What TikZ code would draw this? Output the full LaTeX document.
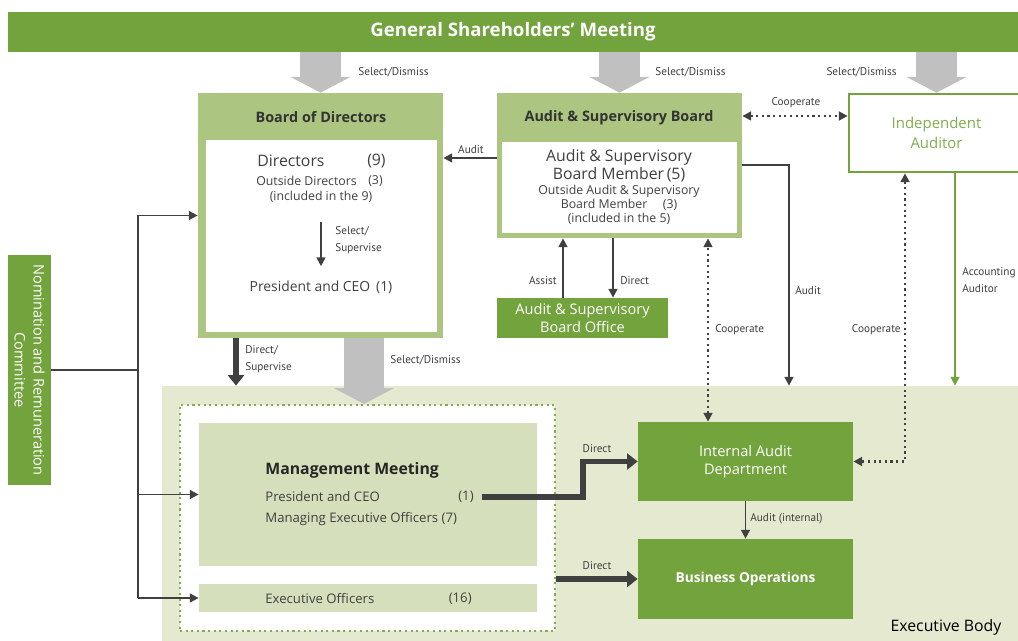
\documentclass[tikz,border=0pt]{standalone}
\usepackage{fontspec}
\setmainfont{Open Sans}
\newfontfamily\narrow{PT Sans}
\usetikzlibrary{positioning,arrows.meta}
\definecolor{leaf}{RGB}{115,163,61}
\definecolor{moss}{RGB}{172,197,128}
\definecolor{sage}{RGB}{228,233,207}
\definecolor{mint}{RGB}{214,223,187}
\definecolor{pebble}{RGB}{192,192,192}
\definecolor{ink}{RGB}{64,64,64}
\definecolor{fern}{RGB}{128,174,78}

\begin{document}
\begin{tikzpicture}
    [x=0.02cm,y=-0.02cm,
     every node/.style={inner sep=0pt, text=ink, font=\fontsize{7.5}{9}\selectfont},
     sz/.style 2 args={minimum width=#1*0.02cm, minimum height=#2*0.02cm},
     band/.style={fill=leaf, text=white, align=center},
     title/.style={font=\bfseries\fontsize{8.2}{9}\selectfont, text=black!80},
     lbl/.style={font=\narrow\fontsize{6.4}{9.5}\selectfont, align=left},
     pick/.style={draw=pebble, line width=23pt, -{Triangle[width=34pt,length=9pt]}},
     link/.style={draw=ink, line width=1pt, -{Triangle[width=5pt,length=5pt]}},
     heavy/.style={draw=ink, line width=3.4pt, -{Triangle[width=9pt,length=6pt]}},
     coop/.style={draw=ink, line width=1.2pt, dotted, {Triangle[width=5pt,length=5pt]}-{Triangle[width=5pt,length=5pt]}}]
  \useasboundingbox[fill=white] (0,0) rectangle (1018,641);

  \node[band, sz={1010}{40}, font=\bfseries\fontsize{10.6}{12}\selectfont] (gsm) at (513,32) {General Shareholders' Meeting};

  \node[fill=moss, sz={245}{245}] (bod) at (320.5,215.5) {};
  \node[fill=white, sz={231}{192}] (bodin) at (321.5,236) {};
  \node[title] (bodt) at (321,117) {Board of Directors};
  \node[anchor=west, font=\fontsize{9}{10}\selectfont] (dirs) at (257,161) {Directors};
  \node[anchor=east, font=\fontsize{9}{10}\selectfont] (dirsn) at (386,161) {(9)};
  \node[anchor=west, font=\fontsize{7}{8}\selectfont] (outd) at (256,181) {Outside Directors};
  \node[anchor=east, font=\fontsize{7}{8}\selectfont] (outdn) at (383,181) {(3)};
  \node[font=\fontsize{7}{8}\selectfont] (incl) at (321,197) {(included in the 9)};
  \node[font=\fontsize{7.9}{9}\selectfont] (pres) at (321,287) {President and CEO\, (1)};
  \node[lbl, anchor=west] (ssl) at (335,240) {Select/\\Supervise};

  \node[fill=moss, sz={245}{145}] (asb) at (619.5,165.5) {};
  \node[fill=white, sz={235}{91}] (asbin) at (619.5,187.5) {};
  \node[title] (asbt) at (619,118) {Audit \& Supervisory Board};
  \node[align=center, font=\fontsize{9}{10}\selectfont] (mem) at (619,166) {Audit \& Supervisory\\Board Member\,(5)};
  \node[align=center, font=\fontsize{7}{8}\selectfont] (outm) at (619,205) {Outside Audit \& Supervisory\\Board Member \quad(3)\\(included in the 5)};
  \node[band, sz={171}{40}, font=\fontsize{8.3}{10.2}\selectfont] (office) at (582.5,318) {Audit \& Supervisory\\Board Office};

  \node[draw=leaf, line width=1.5pt, fill=white, sz={175}{78}, text=fern, align=center, font=\fontsize{8.5}{11}\selectfont] (ia) at (936.5,133) {Independent\\Auditor};

  \node[band, sz={43}{230}] (nrc) at (29.5,370) {};
  \node[rotate=-90, text=white, align=center, font=\fontsize{8.3}{10.8}\selectfont] (nrct) at (nrc.center) {Nomination and Remuneration\\Committee};

  \node[fill=sage, sz={860}{260}] (exec) at (592,516) {};
  \node[font=\fontsize{9}{11}\selectfont, text=black] (execl) at (946,627) {Executive Body};
  \node[draw=fern, dotted, line width=1.2pt, fill=white, sz={375}{226}] (mgmt) at (367.5,518) {};
  \node[fill=mint, sz={338}{143}] (mm) at (368,494.5) {};
  \node[fill=mint, sz={338}{28}] (eo) at (368,598) {};
  \node[anchor=west, font=\bfseries\fontsize{9}{11}\selectfont, text=black!85] (mmt) at (265,470) {Management Meeting};
  \node[anchor=west] (mmp) at (265,497) {President and CEO};
  \node[anchor=east] (mmpn) at (474,497) {(1)};
  \node[anchor=west] (mmo) at (265,519) {Managing Executive Officers (7)};
  \node[anchor=west] (eot) at (265,599) {Executive Officers};
  \node[anchor=east] (eon) at (472,599) {(16)};

  \node[band, sz={215}{79}, font=\fontsize{8.3}{10.5}\selectfont] (iad) at (745.5,461.5) {Internal Audit\\Department};
  \node[band, sz={215}{80}, font=\bfseries\fontsize{7.8}{10}\selectfont] (bo) at (745.5,579) {Business Operations};

  \coordinate (sdx) at (364,0);
  \coordinate (audy) at (0,158);
  \coordinate (cpy) at (0,116);
  \coordinate (asx) at (563,0);
  \coordinate (dix) at (613,0);
  \coordinate (aud) at (789,165);
  \coordinate (cvx) at (708,0);
  \coordinate (cix) at (905,0);
  \coordinate (acx) at (955,0);
  \coordinate (dsx) at (236,0);
  \coordinate (bend) at (583,0);
  \coordinate (bus) at (138,370);

  \foreach \n in {bod,asb,ia}
    \draw[pick] (gsm.south -| \n.north) -- (\n.north);
  \draw[pick] (bod.south -| sdx) -- (mgmt.north -| sdx);

  \draw[link, shorten <=11pt, shorten >=8pt] (incl) -- (pres);
  \draw[link] (asb.west |- audy) -- (bod.east |- audy);
  \draw[link] (office.north -| asx) -- (asb.south -| asx);
  \draw[link] (asb.south -| dix) -- (office.north -| dix);
  \draw[link] (asb.east |- aud) -- (aud) -- (aud |- exec.north);
  \draw[link, draw=leaf] (ia.south -| acx) -- (acx |- exec.north);
  \draw[link] (iad) -- (bo);
  \draw[coop] (asb.east |- cpy) -- (ia.west |- cpy);
  \draw[coop] (iad.north -| cvx) -- (asb.south -| cvx);
  \draw[coop] (ia.south -| cix) |- (iad.east);

  \draw[heavy] (bod.south -| dsx) -- (exec.north -| dsx);
  \draw[heavy] ([xshift=4.5pt]mmpn.east) -| (bend |- iad.west) -- (iad.west);
  \draw[heavy] (mgmt.east |- bo.west) -- (bo.west);

  \draw[draw=ink, line width=1pt] (nrc.east) -- (bus);
  \draw[draw=ink, line width=1pt] (bus |- bod.west) -- (bus |- eo.west);
  \foreach \n in {bod,mm,eo}
    \draw[link] (bus |- \n.west) -- (\n.west);

  \node[lbl, anchor=west] (sd1) at (358,72) {Select/Dismiss};
  \node[lbl, anchor=west] (sd2) at (655,72) {Select/Dismiss};
  \node[lbl, anchor=east] (sd3) at (897,72) {Select/Dismiss};
  \node[lbl, anchor=west] (sd4) at (390,360) {Select/Dismiss};
  \node[lbl] (audl) at (471,150) {Audit};
  \node[lbl] (cpl) at (796,103) {Cooperate};
  \node[lbl, anchor=east] (asl) at (557,281) {Assist};
  \node[lbl, anchor=west] (dil) at (620,281) {Direct};
  \node[lbl, anchor=west] (aul) at (795,291) {Audit};
  \node[lbl, anchor=west] (cvl) at (715,330) {Cooperate};
  \node[lbl, anchor=east] (cil) at (901,330) {Cooperate};
  \node[lbl, anchor=west] (acl) at (962,280) {Accounting\\Auditor};
  \node[lbl, anchor=west] (dsl) at (245,359) {Direct/\\Supervise};
  \node[lbl] (dml) at (597,449) {Direct};
  \node[lbl] (dbl) at (597,566) {Direct};
  \node[lbl, anchor=west] (ail) at (750,519) {Audit (internal)};
\end{tikzpicture}
\end{document}
